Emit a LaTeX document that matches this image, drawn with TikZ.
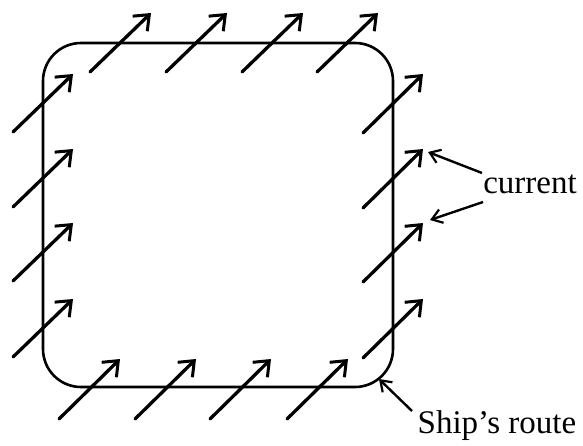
\documentclass[tikz,border=0pt]{standalone}
\usepackage{fontspec}
\setmainfont{Liberation Serif}
\usetikzlibrary{arrows.meta}
\begin{document}
\begin{tikzpicture}[x=1pt,y=-1pt,
  cur/.style={line width=3.3pt, line cap=round, -{Straight Barb[length=13pt,width=21pt,line width=3pt]}},
  lbl/.style={line width=2.4pt, -{Straight Barb[length=10pt,width=14pt,line width=2.2pt]}},
  txt/.style={font=\fontsize{33}{36}\selectfont, inner sep=0pt, anchor=base}]
\useasboundingbox (0,0) rectangle (583,445);
% ship's route
\node[draw, line width=2.6pt, rounded corners=38pt, minimum width=350pt, minimum height=344pt, inner sep=0pt] (route) at (218,215) {};
% current arrows
\foreach \x in {90,166,242,317} \draw[cur] (\x,72) -- ++(61,-59);
\foreach \y in {132,207,281,357} \draw[cur] (13,\y) -- ++(60,-58);
\foreach \x in {59,135,210,287} \draw[cur] (\x,419) -- ++(61,-60);
\foreach \y in {133,208,282,358} \draw[cur] (363,\y) -- ++(60,-59);
% labels
\node[txt] (current) at (530,193) {current};
\node[txt] (ship) at (497,433) {Ship’s route};
\coordinate (c1) at (428,152);
\coordinate (c2) at (430,220);
\coordinate (s1) at (379,379);
\draw[lbl] (482,173) -- (c1);
\draw[lbl] (483,202) -- (c2);
\draw[lbl] (412,411) -- (s1);
\end{tikzpicture}
\end{document}
